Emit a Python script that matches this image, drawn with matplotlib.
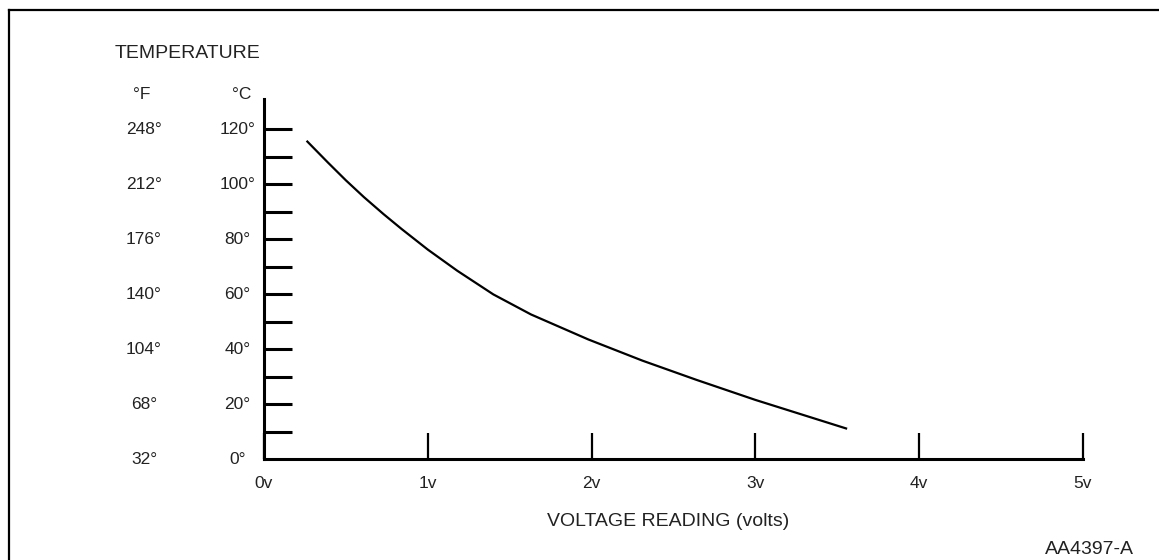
import matplotlib
matplotlib.use("Agg")
import matplotlib.pyplot as plt
from matplotlib.lines import Line2D

# sensor curve: volts -> degrees C
volts = [0.26, 0.39, 0.50, 0.61, 0.73, 0.84, 1.00, 1.18, 1.40, 1.63,
         1.98, 2.31, 2.64, 3.00, 3.32, 3.56]
temp_c = [115.8, 107.9, 101.4, 95.3, 89.1, 83.7, 76.2, 68.5, 59.9, 52.6,
          43.5, 35.8, 28.8, 21.5, 15.5, 11.0]

c_ticks = [0, 20, 40, 60, 80, 100, 120]
c_labels = ["0°", "20°", "40°", "60°", "80°", "100°", "120°"]
f_labels = ["32°", "68°", "104°", "140°", "176°", "212°", "248°"]
minor_c = [10, 30, 50, 70, 90, 110]
volt_ticks = [0, 1, 2, 3, 4, 5]
volt_labels = ["0v", "1v", "2v", "3v", "4v", "5v"]

plt.rcParams["font.family"] = ["Liberation Sans", "DejaVu Sans"]
txt = "#222222"

fig = plt.figure(figsize=(11.59, 5.6), dpi=100)
ax = fig.add_axes([264 / 1159, 101 / 560, 819 / 1159, 360 / 560])

ax.plot(volts, temp_c, color="black", lw=1.6, solid_capstyle="butt", solid_joinstyle="round")

ax.set_xlim(0, 5)
ax.set_ylim(0, 131)
for s in ["top", "right"]:
    ax.spines[s].set_visible(False)
for s in ["left", "bottom"]:
    ax.spines[s].set_linewidth(2.2)

ax.set_yticks([t for t in c_ticks if t > 0])
ax.set_yticks(minor_c, minor=True)
ax.tick_params(axis="y", which="both", direction="in", length=20, width=2.2, labelleft=False)

ax.set_xticks(volt_ticks)
ax.set_xticklabels(volt_labels)
ax.tick_params(axis="x", direction="in", length=19, width=1.6, pad=12,
               labelsize=12.5, labelcolor=txt)

ytr = ax.get_yaxis_transform()
for t, cl, fl in zip(c_ticks, c_labels, f_labels):
    ax.text(-0.0324, t, cl, transform=ytr, ha="center", va="center", fontsize=12.5, color=txt)
    ax.text(-0.1465, t, fl, transform=ytr, ha="center", va="center", fontsize=12.5, color=txt)
ax.text(-0.0272, 132.5, "°C", transform=ytr, ha="center", va="center", fontsize=12.5, color=txt)
ax.text(-0.149, 132.5, "°F", transform=ytr, ha="center", va="center", fontsize=12.5, color=txt)

fig.text(115 / 1159, 1 - 54 / 560, "TEMPERATURE", ha="left", va="center", fontsize=14, color=txt)
fig.text(668 / 1159, 1 - 522 / 560, "VOLTAGE READING (volts)", ha="center", va="center",
         fontsize=14, color=txt)
fig.text(1134 / 1159, 1 - 549 / 560, "AA4397-A", ha="right", va="center", fontsize=14, color=txt)

# frame drawn round the figure (top and left edges only visible)
fig.add_artist(Line2D([9 / 1159, 1], [1 - 10 / 560, 1 - 10 / 560], transform=fig.transFigure,
                      color="black", lw=1.6))
fig.add_artist(Line2D([9 / 1159, 9 / 1159], [0, 1 - 10 / 560], transform=fig.transFigure,
                      color="black", lw=1.6))

fig.savefig("out.png", dpi=100)
